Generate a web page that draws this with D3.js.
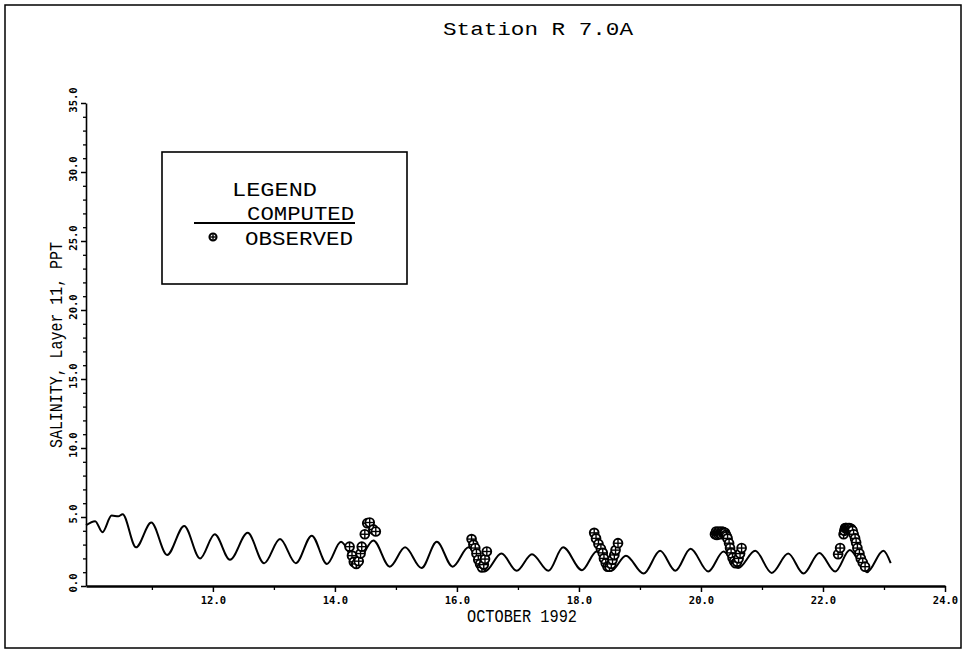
<!DOCTYPE html>
<html>
<head>
<meta charset="utf-8">
<script src="https://cdn.jsdelivr.net/npm/d3@7"></script>
<style>
  html, body { margin: 0; padding: 0; background: #fff; }
  svg { display: block; }
  text { fill: #000; }
</style>
</head>
<body>
<svg id="chart" width="965" height="652"></svg>
<script>
// ---------------- DATA ----------------
const titleText = "Station  R 7.0A";
const xAxisTitle = "OCTOBER 1992";
const yAxisTitle = "SALINITY, Layer 11, PPT";
const legendTitle = "LEGEND";
const seriesNames = ["COMPUTED", "OBSERVED"];

const xMajorTicks = [12, 14, 16, 18, 20, 22, 24];
const xMinorTicks = [11, 13, 15, 17, 19, 21, 23];
const yMajorTicks = [0, 5, 10, 15, 20, 25, 30, 35];
const yMinorTicks = [1,2,3,4,6,7,8,9,11,12,13,14,16,17,18,19,21,22,23,24,26,27,28,29,31,32,33,34];

// computed salinity (day of October, ppt)
const computedDays = [9.92,10.07,10.19,10.34,10.45,10.52,10.74,10.99,11.25,11.53,11.79,12.03,12.28,12.57,12.84,13.10,13.36,13.62,13.87,14.10,14.35,14.63,14.90,15.15,15.42,15.67,15.93,16.19,16.46,16.73,16.98,17.23,17.50,17.74,18.05,18.29,18.53,18.77,19.06,19.33,19.58,19.83,20.12,20.37,20.61,20.89,21.16,21.43,21.68,21.94,22.20,22.44,22.72,22.99,23.11];
const computedSal  = [4.4,4.7,3.9,5.1,5.05,5.2,2.8,4.6,2.25,4.35,2.0,3.75,1.9,3.85,1.65,3.4,1.65,3.65,1.6,3.2,1.65,3.3,1.4,2.8,1.3,3.2,1.4,2.8,1.05,2.35,1.1,2.3,1.1,2.8,1.15,2.5,1.1,2.2,0.9,2.55,1.1,2.7,1.05,2.5,1.3,2.55,0.95,2.35,0.9,2.4,1.05,2.6,1.0,2.55,1.65];

// observed salinity
const observedDays = [
  14.24,14.28,14.31,14.35,14.39,14.42,14.44,14.49,14.53,14.57,14.63,14.67,
  16.24,16.27,16.30,16.32,16.35,16.38,16.41,16.44,16.46,16.49,
  18.25,18.28,18.32,18.36,18.39,18.41,18.44,18.47,18.50,18.53,18.55,18.58,18.60,18.64,
  20.23,20.248,20.261,20.273,20.285,20.297,20.31,20.322,20.334,20.346,20.359,20.371,20.383,20.395,20.408,20.420,20.436,20.461,20.477,20.494,20.518,20.543,20.567,20.592,20.617,20.641,20.666,
  22.248,22.281,22.338,22.350,22.363,22.375,22.387,22.40,22.412,22.424,22.436,22.449,22.461,22.473,22.485,22.502,22.526,22.543,22.564,22.597,22.620,22.652,22.690
];
const observedSal = [
  2.85,2.2,1.75,1.6,1.8,2.35,2.85,3.75,4.55,4.6,4.1,3.95,
  3.4,3.0,2.75,2.35,1.9,1.6,1.35,1.55,1.95,2.5,
  3.85,3.45,3.05,2.7,2.4,2.0,1.65,1.4,1.4,1.6,1.9,2.25,2.6,3.1,
  3.75,3.95,3.7,3.9,3.75,3.95,3.8,3.9,3.75,3.95,3.85,3.9,3.8,3.85,3.7,3.6,3.45,3.1,2.75,2.4,2.05,1.8,1.65,1.75,2.0,2.35,2.75,
  2.3,2.75,3.75,4.0,4.2,4.2,4.2,4.15,4.2,4.15,4.2,4.1,4.15,4.05,4.0,3.75,3.45,3.15,2.75,2.35,2.0,1.7,1.4
];

// ---------------- DRAW ----------------
const svg = d3.select("#chart");
const mono = "'Liberation Mono', 'DejaVu Sans Mono', monospace";
const boldMono = "'DejaVu Sans Mono', 'Liberation Mono', monospace";

const x = d3.scaleLinear().domain([9.92, 24]).range([86, 945]);
const y = d3.scaleLinear().domain([0, 35]).range([586, 103]);

// outer frame
svg.append("rect")
  .attr("x", 5).attr("y", 5).attr("width", 956).attr("height", 643)
  .attr("fill", "none").attr("stroke", "#000").attr("stroke-width", 1.5);

// title
svg.append("text")
  .attr("x", 443).attr("y", 35)
  .attr("font-family", mono).attr("font-size", 19)
  .attr("textLength", 190).attr("lengthAdjust", "spacingAndGlyphs")
  .text(titleText);

// x axis
const gx = svg.append("g").attr("transform", `translate(0,${y(0)})`);
gx.call(d3.axisBottom(x).tickValues(xMajorTicks).tickSize(6).tickSizeOuter(0).tickFormat(d3.format(".1f")));
gx.select(".domain").attr("stroke-width", 2.4);
gx.selectAll(".tick line").attr("stroke-width", 1.5);
gx.selectAll(".tick text")
  .attr("font-family", boldMono).attr("font-size", 10.5).attr("font-weight", "bold")
  .attr("dy", 0).attr("y", 18).attr("fill", "#000");
const gxm = svg.append("g").attr("transform", `translate(0,${y(0)})`);
gxm.call(d3.axisBottom(x).tickValues(xMinorTicks).tickSize(4).tickSizeOuter(0).tickFormat(""));
gxm.select(".domain").remove();
gxm.selectAll(".tick line").attr("stroke-width", 1.3);

svg.append("text")
  .attr("x", 522).attr("y", 622).attr("text-anchor", "middle")
  .attr("font-family", mono).attr("font-size", 18)
  .attr("textLength", 110).attr("lengthAdjust", "spacingAndGlyphs")
  .text(xAxisTitle);

// y axis
const gy = svg.append("g").attr("transform", `translate(${x(9.92)},0)`);
gy.call(d3.axisLeft(y).tickValues(yMajorTicks).tickSize(5).tickSizeOuter(0).tickFormat(""));
gy.select(".domain").attr("stroke-width", 1.6);
gy.selectAll(".tick line").attr("stroke-width", 1.5);
const gym = svg.append("g").attr("transform", `translate(${x(9.92)},0)`);
gym.call(d3.axisLeft(y).tickValues(yMinorTicks).tickSize(3).tickSizeOuter(0).tickFormat(""));
gym.select(".domain").remove();
gym.selectAll(".tick line").attr("stroke-width", 1.3);

svg.append("g").selectAll("text").data(yMajorTicks).join("text")
  .attr("transform", d => `translate(77,${y(d) - 3}) rotate(-90)`)
  .attr("text-anchor", "middle")
  .attr("font-family", boldMono).attr("font-size", 10.5).attr("font-weight", "bold")
  .text(d => d3.format(".1f")(d));

svg.append("text")
  .attr("transform", "translate(62,345) rotate(-90)")
  .attr("text-anchor", "middle")
  .attr("font-family", mono).attr("font-size", 18)
  .attr("textLength", 206).attr("lengthAdjust", "spacingAndGlyphs")
  .text(yAxisTitle);

// computed line
const compData = computedDays.map((d, i) => [d, computedSal[i]]);
svg.append("path")
  .datum(compData)
  .attr("fill", "none").attr("stroke", "#000").attr("stroke-width", 2)
  .attr("stroke-linejoin", "round")
  .attr("d", d3.line().x(d => x(d[0])).y(d => y(d[1])).curve(d3.curveMonotoneX));

// observed symbols
function drawSymbol(g, cx, cy, r) {
  const s = g.append("g").attr("transform", `translate(${cx},${cy})`);
  s.append("circle").attr("r", r).attr("fill", "#fff").attr("stroke", "#000").attr("stroke-width", 1.9);
  s.append("line").attr("x1", -r).attr("x2", r).attr("stroke", "#000").attr("stroke-width", 1.4);
  s.append("line").attr("y1", -r).attr("y2", r).attr("stroke", "#000").attr("stroke-width", 1.4);
}
const obsG = svg.append("g");
observedDays.forEach((d, i) => drawSymbol(obsG, x(d), y(observedSal[i]), 4.4));

// legend
const lg = svg.append("g");
lg.append("rect").attr("x", 162).attr("y", 152).attr("width", 245).attr("height", 132)
  .attr("fill", "#fff").attr("stroke", "#000").attr("stroke-width", 1.6);
lg.append("text").attr("x", 232).attr("y", 196)
  .attr("font-family", mono).attr("font-size", 20)
  .attr("textLength", 85).attr("lengthAdjust", "spacingAndGlyphs").text(legendTitle);
lg.append("text").attr("x", 247).attr("y", 220)
  .attr("font-family", mono).attr("font-size", 20)
  .attr("textLength", 107).attr("lengthAdjust", "spacingAndGlyphs").text(seriesNames[0]);
lg.append("line").attr("x1", 194).attr("x2", 355).attr("y1", 223).attr("y2", 223)
  .attr("stroke", "#000").attr("stroke-width", 1.8);
lg.append("text").attr("x", 245).attr("y", 245)
  .attr("font-family", mono).attr("font-size", 20)
  .attr("textLength", 108).attr("lengthAdjust", "spacingAndGlyphs").text(seriesNames[1]);
drawSymbol(lg, 213, 237, 3.6);
</script>
</body>
</html>
